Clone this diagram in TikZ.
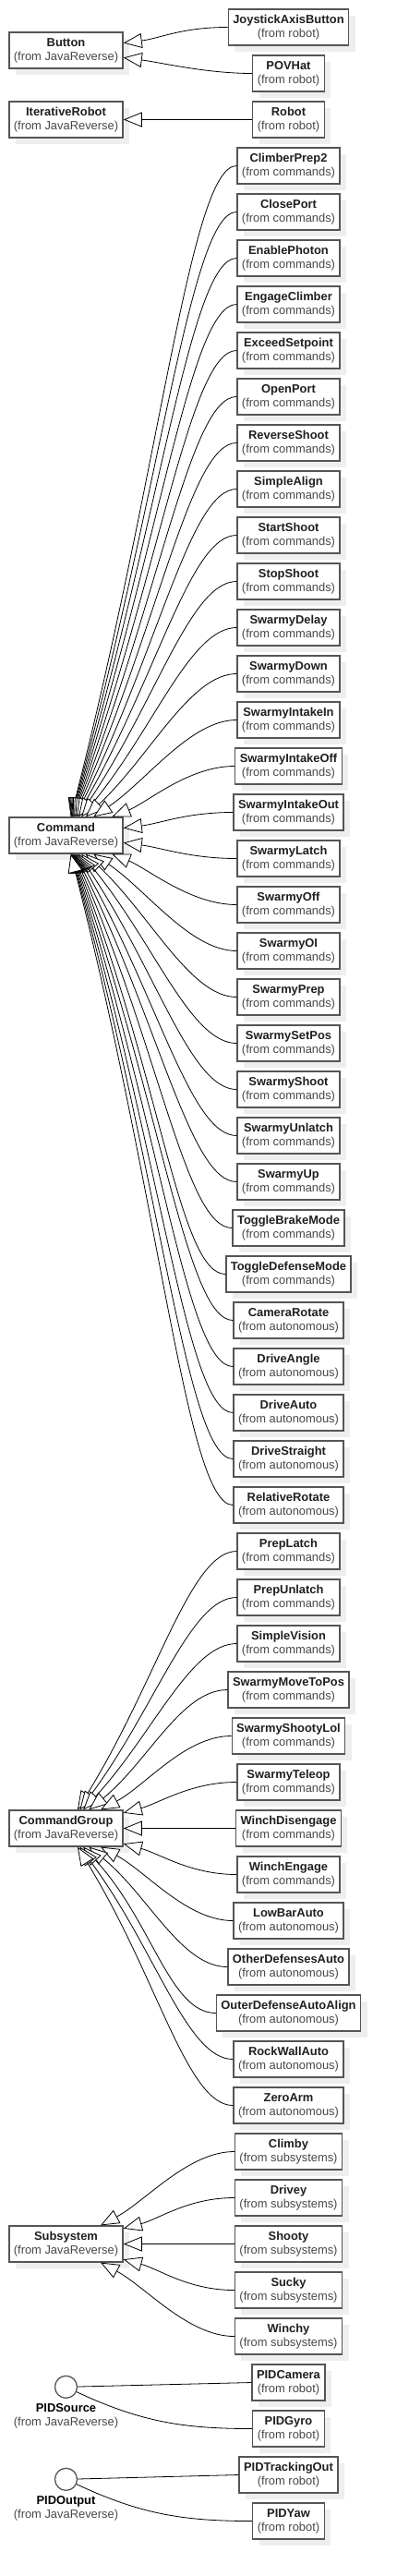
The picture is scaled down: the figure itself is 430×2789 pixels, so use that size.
\documentclass[tikz,border=0pt]{standalone}
\usepackage{fontspec}
\setmainfont{Liberation Sans}
\usetikzlibrary{arrows.meta,shadows}

\definecolor{boxline}{HTML}{555555}
\definecolor{pkgtext}{HTML}{484848}
\definecolor{shade}{HTML}{EEEEEE}

\newcommand{\cname}[2]{\textbf{#1}\\\textcolor{pkgtext}{(from #2)}}
% child, parent, row offset of child against parent
\newcommand{\genlink}[3]{%
	\pgfmathsetmacro\gdy{-50*(#3)}
	\pgfmathsetmacro\gang{atan2(\gdy,185)}
	\pgfmathsetmacro\gin{max(40,0.55*abs(\gdy))}
	\draw[gen] (#1.west) to[out=180,in=\gang,out distance=50pt,in distance=\gin pt] (#2);
}

\tikzset{
	cls/.style={draw=boxline, line width=1.3pt, fill=white, align=center,
		inner xsep=5pt, inner ysep=3pt, minimum height=39pt, text=black!88,
		drop shadow={shadow xshift=7pt, shadow yshift=-7pt, fill=shade, opacity=1}},
	gen/.style={line width=0.8pt, -{Triangle[fill=white,length=20pt,width=16pt]}},
	real/.style={line width=0.8pt},
	iface/.style={circle, draw=boxline, line width=1.3pt, fill=white, minimum size=24pt, inner sep=0pt}
}

\begin{document}
\begin{tikzpicture}[x=1pt, y=1pt, font=\fontsize{12.9}{15}\selectfont]
	\useasboundingbox (0,0) rectangle (430,-2789);

	% parents
	\node[cls] (Button) at (71.5,-54.5) {\cname{Button}{JavaReverse}};
	\node[cls] (IterativeRobot) at (71.5,-129.5) {\cname{IterativeRobot}{JavaReverse}};
	\node[cls] (Command) at (71.5,-904.5) {\cname{Command}{JavaReverse}};
	\node[cls] (CommandGroup) at (71.5,-1979.5) {\cname{CommandGroup}{JavaReverse}};
	\node[cls] (Subsystem) at (71.5,-2429.5) {\cname{Subsystem}{JavaReverse}};

	\node[iface] (PIDSource) at (71.5,-2584.3) {};
	\node[align=center, inner sep=0pt] (PIDSourceLbl) at (71.5,-2616.2) {\cname{PIDSource}{JavaReverse}};
	\node[iface] (PIDOutput) at (71.5,-2684.3) {};
	\node[align=center, inner sep=0pt] (PIDOutputLbl) at (71.5,-2716.2) {\cname{PIDOutput}{JavaReverse}};

	% children
	\foreach \cls/\pkg [count=\i from 0] in {JoystickAxisButton/robot, POVHat/robot, Robot/robot,
		ClimberPrep2/commands, ClosePort/commands, EnablePhoton/commands, EngageClimber/commands,
		ExceedSetpoint/commands, OpenPort/commands, ReverseShoot/commands, SimpleAlign/commands,
		StartShoot/commands, StopShoot/commands, SwarmyDelay/commands, SwarmyDown/commands,
		SwarmyIntakeIn/commands, SwarmyIntakeOff/commands, SwarmyIntakeOut/commands,
		SwarmyLatch/commands, SwarmyOff/commands, SwarmyOI/commands, SwarmyPrep/commands,
		SwarmySetPos/commands, SwarmyShoot/commands, SwarmyUnlatch/commands, SwarmyUp/commands,
		ToggleBrakeMode/commands, ToggleDefenseMode/commands, CameraRotate/autonomous,
		DriveAngle/autonomous, DriveAuto/autonomous, DriveStraight/autonomous, RelativeRotate/autonomous,
		PrepLatch/commands, PrepUnlatch/commands, SimpleVision/commands, SwarmyMoveToPos/commands,
		SwarmyShootyLol/commands, SwarmyTeleop/commands, WinchDisengage/commands, WinchEngage/commands,
		LowBarAuto/autonomous, OtherDefensesAuto/autonomous, OuterDefenseAutoAlign/autonomous,
		RockWallAuto/autonomous, ZeroArm/autonomous,
		Climby/subsystems, Drivey/subsystems, Shooty/subsystems, Sucky/subsystems, Winchy/subsystems,
		PIDCamera/robot, PIDGyro/robot, PIDTrackingOut/robot, PIDYaw/robot}
		\node[cls] (\cls) at (312.5,{-29.5-50*\i}) {\cname{\cls}{\pkg}};

	% generalizations
	\genlink{JoystickAxisButton}{Button}{-0.5}
	\genlink{POVHat}{Button}{0.5}
	\draw[gen] (Robot) -- (IterativeRobot);

	\foreach \cls [count=\i from 3] in {ClimberPrep2, ClosePort, EnablePhoton, EngageClimber,
		ExceedSetpoint, OpenPort, ReverseShoot, SimpleAlign, StartShoot, StopShoot, SwarmyDelay,
		SwarmyDown, SwarmyIntakeIn, SwarmyIntakeOff, SwarmyIntakeOut, SwarmyLatch, SwarmyOff,
		SwarmyOI, SwarmyPrep, SwarmySetPos, SwarmyShoot, SwarmyUnlatch, SwarmyUp, ToggleBrakeMode,
		ToggleDefenseMode, CameraRotate, DriveAngle, DriveAuto, DriveStraight, RelativeRotate}
		{\genlink{\cls}{Command}{\i-17.5}}

	\foreach \cls [count=\i from 33] in {PrepLatch, PrepUnlatch, SimpleVision, SwarmyMoveToPos,
		SwarmyShootyLol, SwarmyTeleop, WinchDisengage, WinchEngage, LowBarAuto, OtherDefensesAuto,
		OuterDefenseAutoAlign, RockWallAuto, ZeroArm}
		{\genlink{\cls}{CommandGroup}{\i-39}}

	\foreach \cls [count=\i from 46] in {Climby, Drivey, Shooty, Sucky, Winchy}
		{\genlink{\cls}{Subsystem}{\i-48}}

	% realizations
	\draw[real] (PIDSource) -- (PIDCamera.west);
	\draw[real] (PIDGyro.west) to[out=180,in=-25] (PIDSource);
	\draw[real] (PIDOutput) -- (PIDTrackingOut.west);
	\draw[real] (PIDYaw.west) to[out=180,in=-25] (PIDOutput);
\end{tikzpicture}
\end{document}
